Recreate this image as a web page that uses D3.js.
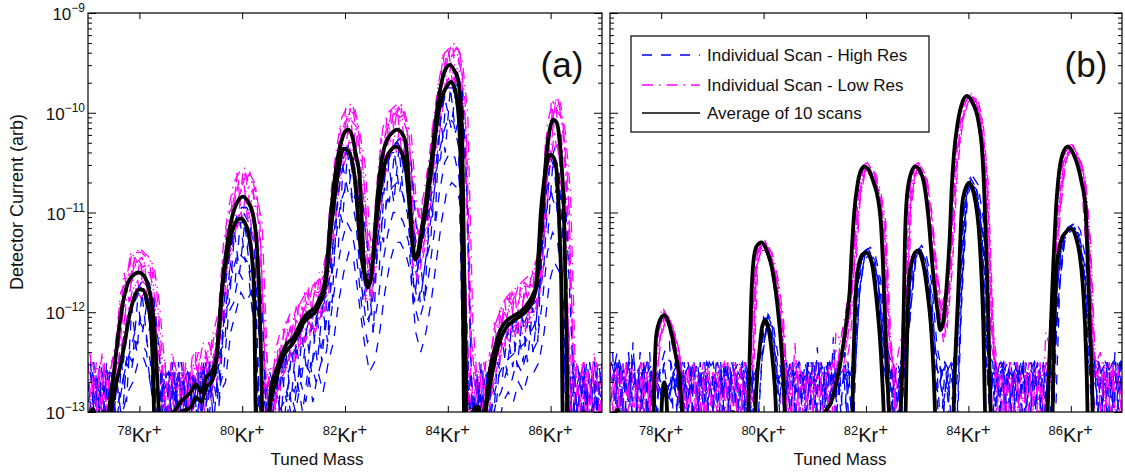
<!DOCTYPE html>
<html>
<head>
<meta charset="utf-8">
<title>Kr isotope mass scans</title>
<script src="https://cdn.jsdelivr.net/npm/d3@7"></script>
<style>
  body { margin: 0; background: #fff; }
  text { font-family: "Liberation Sans", Arial, sans-serif; fill: #111; }
</style>
</head>
<body>
<svg id="chart" width="1125" height="472"></svg>
<script>
// isotope positions on the tuned mass axis
const isotopeMasses = [78, 80, 82, 84, 86];
const isotopeLabels = ["78", "80", "82", "84", "86"];
const decadeExponents = [-9, -10, -11, -12, -13];
const panelNames = ["(a)", "(b)"];
const legendLabels = ["Individual Scan - High Res", "Individual Scan - Low Res", "Average of 10 scans"];

// individual scans: one value every 0.1 amu, each scan starts a bit later
const scanStep = 0.1;
const scanStarts = [77.0, 77.0125, 77.025, 77.0375, 77.05, 77.0625, 77.075, 77.0875];

// all values below are log10 of the detector current

// ---- panel (a) low res scans
const scanAL1 = [-12.6,-13.2,-12.7,-12.9,-12.5,-12.4,-11.9,-11.8,-11.4,-11.5,
  -11.45,-11.6,-11.6,-12.2,-12.6,-13.2,-12.6,-12.9,-12.5,-13.1,
  -12.6,-12.4,-12.8,-12.3,-12.5,-12.0,-11.6,-11.0,-10.9,-10.65,
  -10.7,-10.6,-10.9,-11.2,-12.7,-13.1,-12.5,-12.4,-12.1,-12.2,
  -11.95,-12.1,-11.8,-11.95,-11.7,-11.8,-11.5,-11.05,-10.5,-10.3,
  -10.0,-10.1,-10.15,-10.8,-11.3,-11.6,-10.7,-10.45,-10.1,-10.1,
  -9.95,-10.1,-10.25,-11.2,-11.2,-11.05,-10.5,-10.3,-9.75,-9.55,
  -9.35,-9.45,-9.45,-10.4,-12.6,-13.2,-12.8,-13.2,-12.4,-12.3,
  -11.95,-12.05,-11.8,-11.95,-11.75,-11.85,-11.6,-11.65,-11.1,-10.45,
  -9.9,-10.0,-10.1,-11.2,-12.5,-13.2,-12.5,-12.9,-12.4,-13.1,-12.7];
const scanAL2 = [-13.1,-12.5,-12.9,-12.6,-12.8,-12.5,-12.1,-11.65,-11.6,-11.45,
  -11.55,-11.5,-11.75,-12.0,-12.9,-12.7,-13.2,-12.6,-12.8,-12.7,
  -12.9,-12.5,-12.6,-12.55,-12.2,-12.3,-11.8,-11.2,-10.95,-10.8,
  -10.6,-10.8,-10.75,-11.4,-12.4,-12.8,-12.9,-12.3,-12.3,-12.1,
  -12.2,-11.95,-12.0,-11.75,-11.9,-11.65,-11.6,-10.9,-10.6,-10.2,
  -10.1,-10.0,-10.3,-10.6,-11.5,-11.4,-10.9,-10.3,-10.2,-9.95,
  -10.05,-10.0,-10.4,-11.0,-11.35,-10.9,-10.7,-10.15,-9.9,-9.45,
  -9.45,-9.35,-9.6,-10.2,-12.3,-12.9,-13.2,-12.6,-12.6,-12.1,
  -12.1,-11.85,-11.95,-11.75,-11.9,-11.7,-11.75,-11.5,-11.3,-10.3,
  -10.0,-9.9,-10.3,-11.0,-12.9,-12.6,-13.1,-12.5,-12.8,-12.6,-13.2];
const scanAL3 = [-12.8,-12.9,-12.4,-13.2,-12.7,-12.8,-12.3,-12.0,-11.75,-11.7,
  -11.7,-11.75,-11.9,-12.4,-13.2,-12.8,-12.7,-13.2,-12.6,-12.8,
  -12.7,-12.9,-12.5,-12.8,-12.6,-12.5,-11.9,-11.5,-11.1,-11.0,
  -10.95,-10.95,-11.1,-11.6,-13.2,-12.9,-12.8,-12.6,-12.5,-12.4,
  -12.35,-12.3,-12.1,-12.15,-12.0,-12.0,-11.85,-11.3,-10.8,-10.5,
  -10.3,-10.3,-10.5,-11.0,-11.8,-11.75,-11.1,-10.6,-10.4,-10.3,
  -10.25,-10.3,-10.55,-11.4,-11.55,-11.3,-10.9,-10.5,-10.05,-9.7,
  -9.6,-9.6,-9.75,-11.1,-13.2,-12.7,-13.2,-12.9,-12.8,-12.5,
  -12.3,-12.2,-12.15,-12.1,-12.1,-12.0,-12.0,-11.85,-11.5,-10.6,
  -10.2,-10.2,-10.5,-11.7,-13.2,-12.8,-12.7,-13.2,-12.6,-12.9,-12.8];
const scanAL4 = [-12.5,-12.8,-13.0,-12.6,-13.2,-12.55,-11.95,-11.9,-11.5,-11.35,
  -11.4,-11.45,-11.55,-11.9,-12.5,-12.9,-12.5,-12.8,-13.2,-12.6,
  -12.5,-12.7,-12.4,-12.6,-12.35,-12.1,-11.4,-11.1,-10.7,-10.75,
  -10.6,-10.65,-10.85,-11.1,-12.5,-12.6,-13.2,-12.4,-12.2,-12.25,
  -12.0,-12.0,-11.85,-11.8,-11.8,-11.75,-11.45,-10.8,-10.45,-10.1,
  -10.05,-9.95,-10.2,-10.5,-11.25,-11.45,-10.6,-10.2,-10.05,-10.0,
  -9.9,-10.1,-10.2,-10.9,-11.1,-10.95,-10.55,-10.0,-9.7,-9.4,
  -9.4,-9.35,-9.5,-10.0,-12.1,-12.8,-12.6,-13.2,-12.5,-12.2,
  -12.0,-12.0,-11.85,-11.8,-11.7,-11.75,-11.65,-11.5,-11.0,-10.2,
  -9.95,-9.9,-10.2,-10.8,-12.7,-12.9,-12.6,-12.8,-13.2,-12.5,-12.9];
const scanAL5 = [-12.5,-13.3,-12.6,-13.3,-12.7,-12.4,-12.3,-11.6,-11.9,-11.45,
  -11.8,-11.5,-12.1,-12.0,-13.3,-12.5,-13.3,-12.6,-13.3,-12.5,
  -13.3,-12.4,-13.0,-12.4,-12.9,-12.2,-11.9,-11.1,-11.3,-10.6,
  -11.1,-10.65,-11.3,-11.2,-13.3,-12.6,-13.3,-12.3,-12.6,-12.05,
  -12.5,-11.9,-12.3,-11.75,-12.2,-11.6,-12.0,-10.95,-10.9,-10.15,
  -10.45,-9.95,-10.6,-10.6,-11.9,-11.35,-11.3,-10.25,-10.5,-9.95,
  -10.4,-9.95,-10.7,-11.0,-11.7,-10.9,-11.1,-10.15,-10.2,-9.4,
  -9.75,-9.35,-9.9,-10.5,-13.3,-12.6,-13.3,-12.5,-12.9,-12.1,
  -12.45,-11.85,-12.3,-11.8,-12.25,-11.7,-12.1,-11.5,-11.7,-10.25,
  -10.4,-9.85,-10.7,-11.2,-13.3,-12.5,-13.3,-12.6,-13.3,-12.5,-13.3];
const scanAL6 = [-13.3,-12.6,-13.3,-12.5,-13.3,-12.9,-11.9,-12.1,-11.45,-11.85,
  -11.45,-11.9,-11.55,-12.5,-12.6,-13.3,-12.5,-13.3,-12.7,-13.3,
  -12.5,-13.3,-12.5,-12.9,-12.3,-12.7,-11.5,-11.6,-10.8,-11.15,
  -10.6,-11.1,-10.75,-11.8,-12.6,-13.3,-12.5,-12.8,-12.15,-12.5,
  -12.0,-12.4,-11.8,-12.25,-11.7,-12.1,-11.5,-11.45,-10.45,-10.65,
  -9.95,-10.45,-10.15,-11.15,-11.4,-11.9,-10.8,-10.75,-10.05,-10.4,
  -9.95,-10.45,-10.2,-11.55,-11.15,-11.4,-10.55,-10.65,-9.7,-9.9,
  -9.35,-9.8,-9.45,-11.3,-12.6,-13.3,-12.5,-13.3,-12.4,-12.6,
  -11.95,-12.35,-11.8,-12.25,-11.75,-12.2,-11.65,-12.0,-11.2,-10.8,
  -9.9,-10.35,-10.2,-11.9,-12.6,-13.3,-12.5,-13.3,-12.6,-13.3,-12.7];
const scanAL7 = [-12.7,-13.3,-12.9,-12.6,-13.3,-12.7,-12.5,-12.0,-11.95,-11.75,
  -11.85,-11.8,-12.05,-12.6,-13.3,-12.8,-12.6,-13.3,-12.6,-13.3,
  -12.7,-12.6,-13.3,-12.6,-12.8,-12.4,-12.0,-11.45,-11.3,-11.05,
  -11.05,-11.0,-11.25,-11.9,-13.3,-12.7,-12.9,-12.7,-12.6,-12.45,
  -12.5,-12.3,-12.3,-12.15,-12.2,-12.0,-11.95,-11.45,-10.95,-10.6,
  -10.45,-10.4,-10.65,-11.15,-11.9,-11.85,-11.25,-10.7,-10.55,-10.35,
  -10.4,-10.35,-10.7,-11.5,-11.7,-11.35,-11.05,-10.55,-10.2,-9.75,
  -9.75,-9.65,-9.9,-11.3,-13.3,-12.8,-12.6,-13.3,-12.9,-12.6,
  -12.45,-12.25,-12.3,-12.15,-12.25,-12.1,-12.1,-11.95,-11.7,-10.7,
  -10.35,-10.3,-10.7,-11.9,-13.3,-12.7,-13.3,-12.6,-12.9,-13.3,-12.6];
const scanAL8 = [-12.4,-12.9,-12.5,-13.3,-12.6,-12.3,-11.8,-11.7,-11.4,-11.4,
  -11.4,-11.45,-11.5,-11.8,-12.4,-13.3,-12.4,-12.7,-12.5,-12.9,
  -12.4,-12.6,-12.3,-12.5,-12.2,-12.0,-11.3,-10.95,-10.7,-10.6,
  -10.55,-10.6,-10.7,-11.0,-12.4,-13.3,-12.4,-12.2,-12.15,-12.0,
  -12.0,-11.9,-11.8,-11.75,-11.7,-11.65,-11.4,-10.75,-10.35,-10.05,
  -9.95,-9.9,-10.1,-10.45,-11.2,-11.3,-10.6,-10.15,-10.0,-9.95,
  -9.9,-9.95,-10.15,-10.8,-11.05,-10.8,-10.45,-10.0,-9.65,-9.4,
  -9.35,-9.3,-9.4,-9.9,-12.2,-12.6,-13.3,-12.5,-12.4,-12.1,
  -11.95,-11.85,-11.8,-11.75,-11.7,-11.65,-11.6,-11.45,-10.95,-10.1,
  -9.9,-9.85,-10.1,-10.7,-12.4,-12.8,-12.5,-13.3,-12.5,-12.8,-12.4];

// ---- panel (a) high res scans
const scanAH1 = [-12.7,-13.2,-12.6,-12.9,-13.2,-12.8,-12.6,-12.3,-12.0,-11.9,
  -11.8,-11.85,-12.1,-13.0,-13.2,-12.7,-12.9,-12.6,-13.2,-12.8,
  -12.6,-12.9,-12.7,-12.5,-12.8,-12.6,-11.9,-11.5,-11.3,-11.1,
  -11.1,-11.2,-11.5,-12.8,-13.2,-12.9,-12.7,-12.8,-12.5,-12.6,
  -12.4,-12.3,-12.3,-12.1,-12.2,-12.0,-11.9,-11.4,-10.95,-10.6,
  -10.4,-10.45,-10.8,-11.4,-11.8,-11.7,-11.2,-10.8,-10.55,-10.4,
  -10.4,-10.45,-10.7,-11.3,-11.6,-11.3,-11.0,-10.6,-10.1,-9.9,
  -9.75,-9.75,-10.0,-12.4,-13.2,-12.9,-13.2,-12.7,-12.8,-12.5,
  -12.3,-12.3,-12.15,-12.2,-12.05,-12.1,-11.95,-11.9,-11.2,-10.65,
  -10.45,-10.6,-11.2,-13.2,-12.6,-12.9,-13.2,-12.5,-12.8,-12.6,-13.2];
const scanAH2 = [-12.9,-12.5,-13.2,-12.6,-12.8,-13.2,-12.9,-12.6,-12.4,-12.2,
  -12.1,-12.2,-12.5,-13.2,-12.8,-12.6,-13.2,-12.7,-12.5,-12.9,
  -13.2,-12.6,-12.8,-12.9,-12.6,-12.9,-12.3,-11.8,-11.6,-11.4,
  -11.45,-11.5,-11.9,-13.2,-12.7,-12.8,-13.2,-13.0,-12.9,-12.7,
  -12.8,-12.6,-12.5,-12.6,-12.4,-12.4,-12.2,-11.8,-11.3,-10.9,
  -10.75,-10.8,-11.1,-11.7,-12.1,-12.0,-11.5,-11.1,-10.9,-10.75,
  -10.7,-10.8,-11.0,-11.6,-11.9,-11.7,-11.3,-10.9,-10.45,-10.2,
  -10.05,-10.1,-10.35,-13.2,-12.8,-13.2,-12.7,-13.2,-13.0,-12.8,
  -12.6,-12.5,-12.45,-12.4,-12.35,-12.3,-12.2,-12.1,-11.6,-11.0,
  -10.8,-10.9,-11.5,-13.2,-12.9,-12.5,-12.8,-13.2,-12.6,-12.9,-12.7];
const scanAH3 = [-13.0,-12.7,-12.8,-13.2,-12.6,-12.7,-12.4,-12.2,-11.95,-11.8,
  -11.75,-11.8,-11.95,-12.5,-12.9,-13.2,-12.6,-13.2,-12.8,-12.6,
  -12.8,-12.6,-13.0,-12.6,-12.7,-12.5,-11.8,-11.45,-11.15,-11.0,
  -11.0,-11.1,-11.3,-12.2,-13.2,-12.8,-12.9,-12.6,-12.6,-12.4,
  -12.5,-12.2,-12.25,-12.0,-12.1,-11.9,-11.85,-11.25,-10.8,-10.5,
  -10.35,-10.4,-10.65,-11.2,-11.6,-11.55,-11.1,-10.7,-10.45,-10.35,
  -10.3,-10.4,-10.55,-11.1,-11.45,-11.2,-10.85,-10.5,-10.0,-9.8,
  -9.7,-9.65,-9.85,-11.4,-12.9,-13.2,-12.8,-13.2,-12.6,-12.4,
  -12.25,-12.2,-12.1,-12.1,-12.0,-12.0,-11.9,-11.8,-11.0,-10.55,
  -10.4,-10.5,-10.9,-12.2,-13.2,-12.7,-12.6,-13.2,-12.9,-12.5,-12.8];
const scanAH4 = [-12.6,-12.9,-12.5,-12.8,-12.7,-13.0,-12.8,-12.5,-12.6,-12.3,
  -12.3,-12.4,-12.8,-13.2,-12.6,-12.8,-12.5,-12.9,-12.7,-12.6,
  -12.9,-12.7,-12.6,-12.8,-12.5,-12.8,-12.6,-12.0,-11.9,-11.6,
  -11.7,-11.7,-12.2,-13.2,-12.9,-12.6,-12.8,-12.9,-13.2,-12.8,
  -13.0,-12.7,-12.9,-12.5,-12.7,-12.5,-12.4,-12.0,-11.6,-11.3,
  -11.1,-11.2,-11.5,-12.0,-12.3,-12.2,-11.9,-11.5,-11.2,-11.0,
  -11.0,-11.1,-11.3,-11.9,-12.1,-11.9,-11.6,-11.2,-10.8,-10.5,
  -10.4,-10.45,-10.7,-12.9,-13.2,-12.7,-12.9,-12.6,-13.2,-12.9,
  -12.8,-12.6,-12.7,-12.5,-12.6,-12.4,-12.4,-12.3,-11.9,-11.4,
  -11.2,-11.3,-11.8,-13.2,-12.6,-12.8,-12.5,-12.9,-12.7,-13.2,-12.6];
const scanAH5 = [-12.5,-13.3,-12.7,-13.3,-12.6,-13.3,-12.5,-12.9,-11.95,-12.4,
  -11.8,-12.3,-12.0,-13.3,-12.6,-13.3,-12.5,-13.3,-12.6,-13.3,
  -12.6,-13.3,-12.5,-13.1,-12.5,-12.9,-12.0,-11.9,-11.2,-11.6,
  -11.1,-11.6,-11.5,-13.3,-12.6,-13.3,-12.6,-13.1,-12.4,-12.9,
  -12.3,-12.7,-12.2,-12.6,-12.0,-12.5,-11.85,-11.9,-10.9,-11.1,
  -10.4,-10.9,-10.75,-11.9,-11.6,-12.2,-11.1,-11.3,-10.5,-10.9,
  -10.35,-10.9,-10.65,-11.9,-11.4,-11.9,-10.9,-11.1,-10.05,-10.4,
  -9.75,-10.2,-9.95,-13.3,-12.6,-13.3,-12.5,-13.3,-12.7,-12.9,
  -12.25,-12.6,-12.1,-12.55,-12.05,-12.5,-11.95,-12.3,-11.1,-11.2,
  -10.45,-11.0,-11.1,-13.3,-12.5,-13.3,-12.6,-13.3,-12.5,-13.3,-12.6];
const scanAH6 = [-13.3,-12.6,-13.3,-12.5,-13.3,-12.7,-13.1,-12.4,-12.5,-11.9,
  -12.2,-11.85,-12.5,-13.3,-12.7,-12.6,-13.3,-12.5,-13.3,-12.6,
  -13.3,-12.6,-13.2,-12.5,-13.0,-12.4,-12.3,-11.5,-11.7,-11.1,
  -11.5,-11.15,-11.9,-13.3,-13.3,-12.7,-13.3,-12.6,-12.9,-12.4,
  -12.8,-12.25,-12.6,-12.1,-12.5,-11.95,-12.3,-11.35,-11.4,-10.55,
  -10.8,-10.45,-11.2,-11.35,-12.1,-11.65,-11.6,-10.75,-10.9,-10.4,
  -10.8,-10.45,-11.0,-11.3,-11.9,-11.5,-11.3,-10.6,-10.45,-9.9,
  -10.15,-9.75,-10.35,-12.5,-13.3,-12.6,-13.3,-12.6,-13.3,-12.5,
  -12.65,-12.2,-12.55,-12.15,-12.5,-12.05,-12.4,-11.85,-11.6,-10.7,
  -10.9,-10.6,-11.5,-13.3,-13.3,-12.6,-13.3,-12.5,-13.3,-12.6,-13.3];
const scanAH7 = [-12.8,-13.3,-12.6,-13.3,-12.9,-13.3,-13.0,-12.8,-12.7,-12.5,
  -12.45,-12.6,-12.9,-13.3,-12.9,-13.3,-12.6,-13.3,-12.9,-12.7,
  -13.3,-12.8,-13.3,-12.7,-13.3,-12.8,-12.7,-12.2,-12.0,-11.8,
  -11.9,-11.8,-12.4,-13.3,-12.9,-13.3,-13.0,-13.3,-12.8,-13.1,
  -12.7,-13.0,-12.6,-12.9,-12.6,-12.8,-12.5,-12.3,-11.9,-11.6,
  -11.4,-11.5,-11.9,-12.3,-12.6,-12.5,-12.2,-11.8,-11.5,-11.3,
  -11.3,-11.4,-11.6,-12.2,-12.4,-12.2,-11.9,-11.5,-11.1,-10.8,
  -10.7,-10.75,-11.0,-13.3,-12.9,-13.3,-12.8,-13.3,-12.9,-13.2,
  -12.9,-12.8,-12.9,-12.7,-12.8,-12.6,-12.6,-12.5,-12.2,-11.7,
  -11.5,-11.6,-12.1,-13.3,-12.8,-13.3,-12.7,-13.3,-12.8,-13.3,-12.9];
const scanAH8 = [-12.6,-12.9,-13.3,-12.6,-12.8,-12.6,-12.5,-12.1,-11.85,-11.75,
  -11.65,-11.7,-11.9,-12.4,-13.3,-12.6,-12.9,-12.6,-12.8,-13.3,
  -12.7,-12.6,-12.8,-12.5,-12.6,-12.4,-11.65,-11.35,-11.05,-10.95,
  -10.95,-11.05,-11.25,-12.0,-13.3,-12.7,-12.7,-12.5,-12.4,-12.3,
  -12.25,-12.15,-12.05,-12.0,-11.95,-11.85,-11.7,-11.2,-10.75,-10.45,
  -10.3,-10.35,-10.6,-11.15,-11.55,-11.5,-11.0,-10.6,-10.4,-10.3,
  -10.25,-10.35,-10.5,-11.15,-11.35,-11.1,-10.8,-10.45,-9.95,-9.75,
  -9.65,-9.6,-9.8,-11.0,-13.3,-12.7,-13.3,-12.6,-12.6,-12.35,
  -12.2,-12.1,-12.05,-12.0,-11.95,-11.95,-11.85,-11.7,-10.95,-10.5,
  -10.35,-10.45,-10.85,-12.0,-13.3,-12.6,-12.8,-13.3,-12.6,-12.9,-12.7];

// ---- panel (b) low res scans
const scanBL1 = [-12.7,-13.2,-12.6,-12.9,-12.5,-13.2,-12.7,-12.8,-12.6,-12.2,
  -12.0,-12.05,-12.2,-12.4,-12.8,-12.7,-13.2,-12.6,-12.9,-12.7,
  -12.6,-13.2,-12.7,-12.8,-12.5,-12.9,-12.7,-13.2,-11.5,-11.3,
  -11.3,-11.45,-11.65,-12.05,-12.7,-12.8,-13.2,-12.6,-12.9,-12.7,
  -12.8,-12.6,-12.9,-12.7,-12.6,-12.4,-12.1,-11.5,-10.85,-10.55,
  -10.52,-10.6,-10.78,-11.05,-12.2,-12.8,-12.7,-12.5,-10.85,-10.55,
  -10.52,-10.62,-10.95,-11.5,-11.95,-12.1,-11.5,-10.5,-10.08,-9.88,
  -9.82,-9.86,-10.08,-10.65,-12.0,-12.8,-12.6,-13.2,-12.7,-12.5,
  -12.9,-12.6,-12.8,-12.7,-13.2,-12.6,-12.1,-11.0,-10.52,-10.35,
  -10.33,-10.45,-10.62,-11.25,-12.5,-12.6,-12.9,-12.5,-12.8,-12.6,-13.0];
const scanBL2 = [-12.9,-12.5,-12.8,-12.6,-13.2,-12.7,-12.5,-12.9,-12.7,-12.3,
  -12.05,-12.1,-12.25,-12.5,-12.9,-12.6,-12.8,-12.6,-13.2,-12.7,
  -12.8,-12.6,-12.9,-12.6,-13.2,-12.7,-12.6,-12.8,-11.55,-11.35,
  -11.35,-11.4,-11.75,-12.1,-12.85,-12.6,-12.7,-12.9,-12.6,-12.8,
  -12.6,-12.9,-12.7,-12.5,-12.7,-12.2,-12.2,-11.6,-10.9,-10.6,
  -10.56,-10.63,-10.82,-11.15,-12.35,-12.6,-12.9,-12.6,-10.95,-10.6,
  -10.56,-10.66,-11.05,-11.6,-12.0,-12.2,-11.6,-10.6,-10.12,-9.92,
  -9.85,-9.9,-10.12,-10.75,-12.2,-12.6,-12.9,-12.6,-13.2,-12.7,
  -12.6,-12.8,-12.5,-12.9,-12.6,-12.8,-12.3,-11.1,-10.57,-10.38,
  -10.37,-10.48,-10.68,-11.35,-12.65,-12.5,-12.8,-13.2,-12.6,-12.7,-12.5];
const scanBL3 = [-12.6,-12.8,-13.2,-12.7,-12.6,-12.9,-12.6,-12.7,-13.0,-12.25,
  -12.1,-12.08,-12.22,-12.45,-13.0,-12.6,-12.7,-12.9,-12.6,-12.8,
  -13.2,-12.7,-12.6,-12.9,-12.7,-12.6,-12.9,-12.7,-11.45,-11.32,
  -11.32,-11.48,-11.7,-12.1,-12.75,-13.2,-12.8,-12.7,-12.8,-12.6,
  -12.9,-12.7,-12.6,-12.8,-12.5,-12.5,-12.0,-11.55,-10.88,-10.57,
  -10.54,-10.62,-10.8,-11.1,-12.25,-12.9,-12.6,-12.3,-10.9,-10.57,
  -10.54,-10.64,-11.0,-11.55,-11.9,-12.0,-11.45,-10.55,-10.1,-9.9,
  -9.84,-9.88,-10.1,-10.7,-12.1,-12.9,-12.7,-12.8,-12.6,-12.9,
  -12.7,-12.6,-13.2,-12.6,-12.7,-12.5,-12.2,-11.05,-10.55,-10.37,
  -10.36,-10.47,-10.64,-11.3,-12.55,-12.4,-12.7,-12.6,-13.2,-12.5,-12.8];
const scanBL4 = [-13.2,-12.6,-12.7,-12.5,-12.8,-12.6,-13.2,-12.6,-12.8,-12.3,
  -12.06,-12.1,-12.25,-12.5,-12.9,-13.2,-12.6,-12.8,-12.7,-12.6,
  -12.7,-12.8,-12.5,-12.7,-12.8,-12.6,-12.7,-12.9,-11.5,-11.32,
  -11.33,-11.44,-11.68,-12.06,-12.9,-12.7,-12.6,-12.8,-12.7,-12.9,
  -12.7,-12.8,-12.5,-12.7,-12.4,-12.6,-12.3,-11.65,-10.87,-10.58,
  -10.55,-10.61,-10.79,-11.1,-12.3,-12.7,-12.8,-12.4,-10.92,-10.58,
  -10.55,-10.64,-11.0,-11.58,-12.05,-12.15,-11.55,-10.55,-10.1,-9.9,
  -9.84,-9.87,-10.1,-10.72,-12.15,-12.7,-12.8,-13.2,-12.6,-12.8,
  -12.8,-12.5,-12.7,-12.6,-12.9,-12.7,-12.25,-11.05,-10.55,-10.37,
  -10.36,-10.47,-10.65,-11.3,-12.6,-12.7,-12.5,-12.9,-12.6,-12.8,-12.6];
const scanBL5 = [-12.5,-13.3,-12.6,-13.3,-12.7,-13.3,-12.5,-13.3,-12.8,-12.3,
  -12.1,-12.0,-12.3,-12.5,-13.3,-12.6,-13.3,-12.7,-13.3,-12.5,
  -13.3,-12.6,-13.3,-12.5,-13.3,-12.7,-13.3,-12.6,-11.55,-11.3,
  -11.35,-11.4,-11.75,-12.0,-13.3,-12.6,-13.3,-12.5,-13.3,-12.7,
  -13.3,-12.5,-13.3,-12.6,-12.4,-12.3,-12.0,-11.7,-10.8,-10.6,
  -10.53,-10.65,-10.75,-11.2,-12.1,-13.3,-12.5,-12.2,-10.95,-10.55,
  -10.57,-10.6,-11.05,-11.5,-12.1,-11.9,-11.65,-10.45,-10.15,-9.87,
  -9.86,-9.85,-10.15,-10.6,-12.3,-13.3,-12.6,-13.3,-12.5,-13.3,
  -12.7,-13.3,-12.6,-13.3,-12.5,-13.3,-12.0,-11.1,-10.5,-10.39,
  -10.34,-10.5,-10.6,-11.4,-12.4,-13.3,-12.6,-13.3,-12.5,-13.3,-12.6];
const scanBL6 = [-13.3,-12.6,-13.3,-12.5,-13.3,-12.7,-13.3,-12.6,-13.3,-12.2,
  -12.05,-12.1,-12.2,-12.4,-12.7,-13.3,-12.5,-13.3,-12.6,-13.3,
  -12.6,-13.3,-12.7,-13.3,-12.5,-13.3,-12.6,-13.3,-11.45,-11.36,
  -11.3,-11.5,-11.65,-12.15,-12.6,-13.3,-12.3,-13.3,-12.6,-13.3,
  -12.5,-13.3,-12.6,-13.3,-12.2,-12.3,-12.25,-11.5,-10.9,-10.56,
  -10.57,-10.6,-10.85,-11.0,-12.4,-12.6,-13.3,-12.4,-10.85,-10.6,
  -10.53,-10.68,-10.95,-11.6,-11.85,-12.3,-11.4,-10.65,-10.05,-9.93,
  -9.83,-9.9,-10.05,-10.8,-11.9,-12.6,-13.3,-12.5,-13.3,-12.6,
  -13.3,-12.5,-13.3,-12.6,-13.3,-12.2,-12.4,-11.0,-10.6,-10.35,
  -10.38,-10.44,-10.7,-11.2,-12.7,-12.5,-13.3,-12.6,-13.3,-12.5,-13.3];
const scanBL7 = [-12.7,-12.5,-13.3,-12.8,-12.6,-13.3,-12.7,-12.5,-13.3,-12.15,
  -11.95,-12.05,-12.15,-12.4,-12.8,-12.5,-13.3,-12.8,-12.5,-13.3,
  -12.7,-12.5,-13.3,-12.7,-12.6,-13.3,-12.5,-12.7,-11.6,-11.28,
  -11.28,-11.42,-11.6,-12.0,-12.6,-12.5,-13.3,-12.6,-12.7,-13.3,
  -12.6,-12.7,-13.3,-12.5,-12.6,-12.2,-12.1,-11.55,-10.82,-10.53,
  -10.5,-10.58,-10.76,-11.05,-12.15,-12.5,-13.3,-12.3,-10.88,-10.53,
  -10.5,-10.6,-10.92,-11.45,-11.9,-12.0,-11.5,-10.5,-10.06,-9.86,
  -9.8,-9.84,-10.05,-10.62,-12.05,-12.5,-13.3,-12.7,-12.5,-13.3,
  -12.6,-12.7,-13.3,-12.5,-12.8,-13.3,-12.15,-10.98,-10.5,-10.33,
  -10.32,-10.43,-10.6,-11.2,-12.45,-12.5,-13.3,-12.6,-12.5,-13.3,-12.7];
const scanBL8 = [-12.9,-13.3,-12.5,-12.7,-13.3,-12.6,-12.5,-13.3,-12.6,-12.35,
  -12.12,-12.15,-12.3,-12.55,-13.3,-12.7,-12.5,-13.3,-12.7,-12.6,
  -13.3,-12.6,-12.5,-13.3,-12.7,-12.5,-13.3,-12.6,-11.6,-11.38,
  -11.38,-11.5,-11.8,-12.2,-13.3,-12.6,-12.5,-13.3,-12.8,-12.5,
  -13.3,-12.6,-12.7,-13.3,-12.5,-12.6,-12.3,-11.7,-10.92,-10.62,
  -10.6,-10.66,-10.85,-11.2,-12.4,-12.6,-13.3,-12.5,-10.98,-10.62,
  -10.6,-10.7,-11.1,-11.65,-12.1,-12.25,-11.65,-10.65,-10.15,-9.95,
  -9.88,-9.92,-10.15,-10.8,-12.3,-12.6,-12.5,-13.3,-12.7,-12.5,
  -13.3,-12.6,-12.8,-13.3,-12.6,-12.5,-12.35,-11.15,-10.6,-10.4,
  -10.4,-10.5,-10.7,-11.4,-12.7,-12.6,-12.5,-13.3,-12.6,-12.7,-13.3];

// ---- panel (b) high res scans
const scanBH1 = [-12.6,-12.9,-12.5,-13.2,-12.7,-12.6,-12.9,-12.7,-12.8,-12.6,
  -12.85,-12.8,-12.9,-12.6,-13.2,-12.7,-12.6,-12.8,-12.6,-12.9,
  -12.7,-12.5,-12.8,-12.6,-12.9,-12.6,-12.7,-13.2,-12.9,-12.4,
  -12.05,-12.15,-12.55,-12.9,-12.6,-12.8,-12.7,-12.5,-12.8,-12.6,
  -12.9,-12.6,-12.5,-12.7,-12.6,-12.8,-12.6,-12.9,-11.75,-11.42,
  -11.38,-11.48,-11.72,-12.45,-12.7,-12.6,-12.9,-12.6,-11.95,-11.45,
  -11.36,-11.48,-11.78,-12.45,-12.8,-12.6,-12.7,-12.9,-11.78,-10.82,
  -10.68,-10.78,-11.12,-12.35,-12.7,-12.6,-12.8,-12.6,-12.9,-12.5,
  -12.7,-12.6,-12.8,-12.5,-12.6,-12.9,-12.7,-11.75,-11.28,-11.18,
  -11.14,-11.23,-11.52,-12.35,-12.7,-12.6,-12.5,-12.8,-12.6,-12.5,-12.7];
const scanBH2 = [-12.9,-12.5,-12.7,-12.6,-12.4,-12.8,-12.6,-13.2,-12.6,-12.7,
  -12.8,-12.9,-12.6,-12.8,-12.5,-12.9,-12.7,-12.5,-13.2,-12.6,
  -12.5,-12.8,-12.6,-12.9,-12.6,-12.5,-12.8,-12.6,-12.7,-12.5,
  -12.1,-12.2,-12.6,-12.7,-12.9,-12.5,-12.7,-12.9,-12.5,-12.8,
  -12.6,-12.7,-12.9,-12.5,-12.8,-12.5,-12.7,-12.6,-11.8,-11.46,
  -11.4,-11.5,-11.78,-12.5,-12.6,-12.8,-12.5,-12.7,-12.0,-11.48,
  -11.38,-11.52,-11.82,-12.5,-12.6,-12.9,-12.6,-12.5,-11.8,-10.86,
  -10.7,-10.8,-11.18,-12.45,-12.6,-12.8,-12.5,-12.9,-12.6,-12.7,
  -12.5,-12.8,-12.6,-12.7,-12.9,-12.6,-12.5,-11.8,-11.3,-11.2,
  -11.16,-11.26,-11.56,-12.45,-12.6,-12.8,-12.7,-12.5,-12.9,-12.7,-12.5];
const scanBH3 = [-12.5,-12.7,-12.9,-12.5,-12.8,-12.6,-12.5,-12.8,-12.7,-13.0,
  -12.82,-12.88,-12.7,-12.9,-12.6,-12.5,-12.8,-12.9,-12.6,-12.7,
  -12.9,-12.6,-12.7,-12.5,-12.8,-12.9,-12.6,-12.5,-12.95,-12.45,
  -12.08,-12.18,-12.6,-12.8,-12.5,-12.7,-12.6,-12.9,-12.7,-12.5,
  -12.7,-12.5,-12.8,-12.6,-12.9,-12.6,-12.5,-12.8,-11.78,-11.44,
  -11.39,-11.5,-11.74,-12.4,-12.8,-12.5,-12.7,-12.6,-11.9,-11.46,
  -11.37,-11.5,-11.8,-12.55,-12.5,-12.7,-12.8,-12.6,-11.85,-10.84,
  -10.69,-10.79,-11.15,-12.4,-12.9,-12.5,-12.6,-12.7,-12.5,-12.9,
  -12.6,-12.7,-12.5,-12.9,-12.7,-12.5,-12.8,-11.82,-11.29,-11.19,
  -11.15,-11.24,-11.54,-12.4,-12.5,-12.7,-12.9,-12.6,-12.5,-12.8,-12.6];
const scanBH4 = [-12.7,-12.4,-12.6,-12.8,-12.5,-12.9,-12.7,-12.6,-12.5,-12.8,
  -12.7,-12.75,-12.6,-12.5,-12.7,-12.8,-12.5,-12.7,-12.8,-12.5,
  -12.6,-12.9,-12.5,-12.7,-12.6,-12.8,-12.5,-12.7,-12.6,-12.35,
  -12.0,-12.1,-12.5,-12.6,-12.7,-12.6,-12.8,-12.6,-12.6,-12.9,
  -12.5,-12.8,-12.6,-12.8,-12.5,-12.7,-12.6,-12.5,-11.7,-11.4,
  -11.36,-11.45,-11.7,-12.35,-12.6,-12.7,-12.6,-12.5,-11.9,-11.42,
  -11.35,-11.46,-11.75,-12.4,-12.7,-12.5,-12.6,-12.8,-11.72,-10.8,
  -10.65,-10.74,-11.08,-12.3,-12.6,-12.7,-12.5,-12.6,-12.8,-12.6,
  -12.8,-12.5,-12.6,-12.7,-12.5,-12.7,-12.6,-11.7,-11.25,-11.15,
  -11.12,-11.2,-11.48,-12.3,-12.6,-12.5,-12.7,-12.8,-12.5,-12.6,-12.8];
const scanBH5 = [-12.4,-13.3,-12.5,-13.3,-12.3,-13.3,-12.5,-13.3,-12.7,-13.3,
  -12.5,-12.9,-12.6,-13.3,-12.5,-13.3,-12.6,-13.3,-12.5,-13.3,
  -12.6,-13.3,-12.5,-13.3,-12.7,-13.3,-12.5,-13.3,-12.6,-12.4,
  -12.05,-12.2,-12.5,-13.3,-12.5,-13.3,-12.6,-13.3,-12.5,-13.3,
  -12.35,-13.3,-12.5,-13.3,-12.6,-13.3,-12.5,-13.3,-11.75,-11.4,
  -11.36,-11.52,-11.7,-12.6,-12.5,-13.3,-12.6,-13.3,-11.9,-11.5,
  -11.34,-11.55,-11.75,-12.6,-13.3,-12.5,-13.3,-12.6,-11.75,-10.88,
  -10.66,-10.82,-11.1,-12.5,-13.3,-12.5,-13.3,-12.6,-13.3,-12.5,
  -13.3,-12.6,-13.3,-12.5,-13.3,-12.6,-13.3,-11.7,-11.32,-11.17,
  -11.12,-11.28,-11.5,-12.5,-13.3,-12.5,-13.3,-12.6,-13.3,-12.5,-13.3];
const scanBH6 = [-13.3,-12.5,-13.3,-12.4,-13.3,-12.6,-13.3,-12.5,-13.3,-12.6,
  -12.4,-12.3,-13.3,-12.5,-13.3,-12.6,-13.3,-12.5,-13.3,-12.7,
  -13.3,-12.5,-13.3,-12.6,-13.3,-12.5,-13.3,-12.6,-13.3,-12.5,
  -12.15,-12.1,-12.7,-12.6,-13.3,-12.5,-13.3,-12.6,-13.3,-12.5,
  -13.3,-12.6,-13.3,-12.25,-13.3,-12.6,-13.3,-12.5,-11.85,-11.48,
  -11.42,-11.47,-11.8,-12.4,-13.3,-12.6,-13.3,-12.5,-12.05,-11.44,
  -11.4,-11.47,-11.85,-12.4,-12.6,-13.3,-12.5,-13.3,-11.85,-10.83,
  -10.72,-10.77,-11.2,-12.3,-12.6,-13.3,-12.5,-13.3,-12.6,-13.3,
  -12.5,-13.3,-12.6,-13.3,-12.5,-13.3,-12.6,-11.85,-11.27,-11.22,
  -11.18,-11.22,-11.6,-12.3,-12.5,-13.3,-12.6,-13.3,-12.4,-13.3,-12.6];
const scanBH7 = [-12.6,-12.5,-13.3,-12.7,-12.5,-13.3,-12.6,-12.4,-13.3,-12.6,
  -12.7,-12.8,-12.5,-13.3,-12.6,-12.5,-13.3,-12.6,-12.7,-13.3,
  -12.5,-12.6,-13.3,-12.5,-12.7,-13.3,-12.6,-12.5,-13.3,-12.42,
  -12.1,-12.15,-12.55,-13.3,-12.6,-12.5,-13.3,-12.7,-12.5,-13.3,
  -12.6,-12.5,-13.3,-12.6,-12.5,-13.3,-12.6,-12.7,-11.8,-11.43,
  -11.4,-11.48,-11.74,-12.5,-12.6,-13.3,-12.5,-12.6,-11.92,-11.47,
  -11.38,-11.5,-11.8,-12.5,-13.3,-12.6,-12.5,-13.3,-11.8,-10.85,
  -10.7,-10.8,-11.15,-12.4,-12.5,-13.3,-12.6,-12.5,-13.3,-12.6,
  -12.5,-13.3,-12.6,-12.5,-13.3,-12.6,-12.5,-11.78,-11.3,-11.2,
  -11.15,-11.25,-11.55,-12.4,-12.6,-13.3,-12.5,-12.6,-13.3,-12.5,-12.6];
const scanBH8 = [-12.5,-13.3,-12.7,-12.5,-13.3,-12.4,-12.6,-13.3,-12.5,-12.7,
  -12.45,-12.5,-12.8,-12.6,-13.3,-12.5,-12.7,-13.3,-12.5,-12.6,
  -13.3,-12.7,-12.5,-13.3,-12.6,-12.5,-13.3,-12.7,-12.5,-12.38,
  -12.02,-12.12,-12.45,-12.7,-13.3,-12.6,-12.5,-13.3,-12.7,-12.5,
  -13.3,-12.6,-12.5,-13.3,-12.6,-12.4,-13.3,-12.6,-11.72,-11.38,
  -11.35,-11.44,-11.68,-12.3,-12.5,-13.3,-12.6,-12.5,-11.88,-11.4,
  -11.33,-11.45,-11.72,-12.35,-12.6,-12.5,-13.3,-12.6,-11.7,-10.78,
  -10.64,-10.72,-11.05,-12.25,-13.3,-12.6,-12.5,-13.3,-12.6,-12.5,
  -13.3,-12.6,-12.5,-13.3,-12.7,-12.5,-13.3,-11.68,-11.24,-11.14,
  -11.1,-11.18,-11.46,-12.25,-13.3,-12.6,-12.5,-13.3,-12.6,-12.5,-13.3];

// ---- averages of 10 scans: [tuned mass, log10 current]
const avgALow = [[77.0,-13.15],[77.1,-12.97],[77.2,-13.2],[77.3,-13.0],[77.38,-13.05],[77.45,-12.8],[77.5,-12.62],[77.56,-12.35],[77.62,-12.1],[77.7,-11.85],[77.8,-11.68],[77.9,-11.62],[77.98,-11.6],[78.08,-11.63],[78.16,-11.72],[78.22,-11.85],[78.28,-12.1],[78.32,-12.4],[78.36,-12.8],[78.4,-13.2],
  [78.5,-13.3],[78.6,-13.05],[78.7,-12.98],[78.8,-12.9],[78.9,-12.85],[79.0,-12.8],[79.1,-12.72],[79.2,-12.8],[79.3,-12.65],[79.4,-12.6],[79.5,-12.45],[79.56,-12.1],[79.62,-11.7],[79.7,-11.35],[79.8,-11.05],[79.9,-10.9],[80.02,-10.84],[80.12,-10.9],[80.2,-11.0],[80.28,-11.3],[80.33,-11.8],[80.37,-12.5],[80.4,-13.2],
  [80.5,-13.2],[80.56,-12.75],[80.65,-12.6],[80.75,-12.45],[80.85,-12.33],[81.0,-12.25],[81.1,-12.15],[81.2,-12.05],[81.3,-12.0],[81.42,-11.95],[81.52,-11.85],[81.6,-11.72],[81.66,-11.45],[81.72,-11.05],[81.78,-10.75],[81.86,-10.45],[81.95,-10.25],[82.06,-10.17],[82.15,-10.25],[82.22,-10.45],[82.28,-10.62],[82.33,-11.1],[82.37,-11.55],[82.45,-11.75],[82.52,-11.6],[82.58,-11.2],[82.64,-10.8],[82.72,-10.45],[82.82,-10.27],[82.92,-10.2],[83.01,-10.17],[83.1,-10.2],[83.18,-10.3],[83.23,-10.6],[83.27,-10.95],[83.32,-11.35],[83.36,-11.46],[83.42,-11.4],[83.48,-11.2],[83.56,-10.94],[83.63,-10.65],[83.69,-10.44],[83.76,-10.1],[83.85,-9.77],[83.95,-9.57],[84.04,-9.52],[84.12,-9.57],[84.2,-9.67],[84.25,-9.9],[84.28,-10.27],[84.3,-10.9],[84.32,-11.6],[84.35,-12.5],[84.37,-13.2],
  [84.45,-13.05],[84.55,-12.95],[84.62,-13.2],[84.7,-13.0],[84.76,-12.85],[84.82,-12.58],[84.92,-12.35],[85.02,-12.18],[85.12,-12.1],[85.21,-12.06],[85.3,-12.03],[85.4,-12.0],[85.5,-11.95],[85.6,-11.88],[85.68,-11.8],[85.73,-11.73],[85.78,-11.45],[85.83,-11.08],[85.91,-10.47],[85.98,-10.18],[86.05,-10.07],[86.12,-10.1],[86.18,-10.3],[86.22,-10.57],[86.26,-11.0],[86.28,-11.48],[86.31,-12.2],[86.34,-13.2],
  [86.45,-13.1],[86.55,-13.25],[86.65,-13.0],[86.75,-13.2],[86.85,-13.05],[87.0,-13.2]];
const avgAHigh = [[77.0,-13.25],[77.2,-13.1],[77.35,-13.25],[77.45,-13.0],[77.52,-12.78],[77.6,-12.6],[77.7,-12.35],[77.8,-12.05],[77.9,-11.85],[78.0,-11.77],[78.08,-11.78],[78.15,-11.9],[78.22,-12.1],[78.26,-12.5],[78.3,-13.2],
  [78.4,-13.3],[78.6,-13.1],[78.8,-13.0],[79.0,-12.95],[79.1,-12.85],[79.2,-12.9],[79.3,-12.75],[79.4,-12.7],[79.48,-12.55],[79.55,-12.15],[79.6,-11.8],[79.7,-11.45],[79.8,-11.2],[79.9,-11.08],[79.97,-11.06],[80.05,-11.1],[80.12,-11.2],[80.18,-11.4],[80.23,-11.8],[80.27,-13.2],
  [80.45,-13.25],[80.55,-12.9],[80.65,-12.7],[80.75,-12.5],[80.85,-12.4],[81.0,-12.3],[81.1,-12.2],[81.2,-12.1],[81.3,-12.05],[81.42,-12.0],[81.52,-11.9],[81.6,-11.78],[81.66,-11.55],[81.72,-11.2],[81.8,-10.85],[81.88,-10.55],[81.97,-10.36],[82.06,-10.38],[82.14,-10.5],[82.2,-10.7],[82.26,-11.1],[82.32,-11.45],[82.4,-11.65],[82.47,-11.72],[82.54,-11.5],[82.6,-11.15],[82.68,-10.8],[82.78,-10.5],[82.9,-10.37],[83.0,-10.34],[83.1,-10.4],[83.18,-10.55],[83.24,-10.85],[83.3,-11.25],[83.36,-11.47],[83.42,-11.42],[83.5,-11.2],[83.58,-10.95],[83.66,-10.65],[83.74,-10.3],[83.82,-10.0],[83.92,-9.8],[84.0,-9.72],[84.06,-9.69],[84.13,-9.75],[84.19,-9.92],[84.23,-10.2],[84.26,-10.7],[84.28,-11.3],[84.3,-12.2],[84.32,-13.2],
  [84.42,-13.3],[84.52,-13.05],[84.6,-12.95],[84.68,-13.2],[84.76,-12.9],[84.84,-12.68],[84.94,-12.42],[85.04,-12.25],[85.14,-12.15],[85.24,-12.1],[85.34,-12.06],[85.44,-12.03],[85.54,-11.98],[85.62,-11.92],[85.7,-11.8],[85.76,-11.45],[85.81,-11.0],[85.87,-10.7],[85.93,-10.5],[85.99,-10.42],[86.06,-10.45],[86.12,-10.6],[86.18,-11.28],[86.21,-11.8],[86.24,-13.2],
  [86.4,-13.3],[86.6,-13.1],[86.8,-13.25],[87.0,-13.1]];
const avgBLow = [[77.0,-13.2],[77.15,-12.98],[77.3,-13.25],[77.5,-13.05],[77.7,-13.3],
  [77.84,-13.2],[77.87,-12.6],[77.9,-12.25],[77.96,-12.1],[78.06,-12.03],[78.14,-12.1],[78.2,-12.21],[78.28,-12.42],[78.36,-12.68],[78.4,-12.95],[78.44,-13.2],
  [78.6,-13.05],[78.8,-13.3],[79.0,-13.03],[79.2,-13.25],[79.4,-13.0],[79.6,-13.2],
  [79.68,-13.2],[79.72,-12.6],[79.76,-11.85],[79.8,-11.5],[79.86,-11.34],[79.96,-11.3],[80.06,-11.38],[80.16,-11.55],[80.24,-11.8],[80.3,-12.08],[80.36,-12.45],[80.4,-12.8],[80.43,-13.2],
  [80.6,-13.1],[80.8,-13.02],[81.0,-13.25],[81.2,-13.0],[81.32,-12.9],
  [81.43,-12.68],[81.55,-12.35],[81.64,-12.0],[81.68,-11.8],[81.72,-11.4],[81.77,-11.0],[81.84,-10.7],[81.9,-10.58],[81.97,-10.54],[82.05,-10.57],[82.15,-10.7],[82.24,-10.88],[82.29,-11.1],[82.33,-11.5],[82.38,-12.2],[82.43,-12.8],[82.48,-13.2],
  [82.56,-13.3],[82.64,-13.2],[82.7,-12.7],[82.73,-12.15],[82.76,-11.3],[82.79,-10.9],[82.86,-10.64],[82.96,-10.54],[83.05,-10.58],[83.13,-10.7],[83.22,-11.05],[83.3,-11.55],[83.4,-12.0],[83.45,-12.18],[83.5,-12.12],[83.54,-11.95],[83.6,-11.55],[83.64,-11.2],[83.67,-10.8],[83.72,-10.4],[83.78,-10.14],[83.86,-9.93],[83.97,-9.83],[84.08,-9.9],[84.2,-10.1],[84.27,-10.4],[84.31,-10.8],[84.35,-11.4],[84.39,-12.1],[84.42,-12.7],[84.45,-13.2],
  [84.6,-13.1],[84.8,-13.02],[85.0,-13.25],[85.2,-13.05],[85.4,-13.2],
  [85.53,-13.2],[85.57,-12.6],[85.61,-12.15],[85.66,-11.5],[85.71,-10.97],[85.77,-10.6],[85.85,-10.4],[85.94,-10.34],[86.04,-10.4],[86.14,-10.54],[86.22,-10.72],[86.28,-10.9],[86.33,-11.48],[86.37,-12.1],[86.41,-12.6],[86.44,-13.2],
  [86.6,-13.1],[86.8,-13.25],[87.0,-13.05]];
const avgBHigh = [[77.0,-13.25],[77.1,-13.02],[77.2,-13.3],[77.5,-13.2],[77.8,-13.3],
  [77.98,-13.2],[78.02,-12.85],[78.06,-12.7],[78.1,-12.85],[78.14,-13.2],
  [78.5,-13.3],[78.9,-13.03],[79.2,-13.3],[79.5,-13.05],
  [79.82,-13.2],[79.86,-12.75],[79.92,-12.38],[79.97,-12.15],[80.03,-12.08],[80.09,-12.15],[80.16,-12.4],[80.22,-12.75],[80.27,-13.2],
  [80.6,-13.3],[80.9,-13.04],[81.2,-13.3],[81.5,-13.2],
  [81.72,-13.2],[81.76,-12.4],[81.8,-11.81],[81.85,-11.55],[81.92,-11.43],[82.01,-11.4],[82.08,-11.45],[82.13,-11.55],[82.18,-11.75],[82.23,-12.0],[82.29,-12.4],[82.33,-12.8],[82.37,-13.2],
  [82.55,-13.3],
  [82.76,-13.2],[82.8,-12.3],[82.84,-11.65],[82.9,-11.48],[82.96,-11.4],[83.02,-11.38],[83.08,-11.44],[83.13,-11.55],[83.2,-11.8],[83.27,-12.15],[83.32,-12.6],[83.37,-13.2],
  [83.52,-13.3],
  [83.69,-13.2],[83.74,-12.5],[83.8,-11.81],[83.84,-11.3],[83.87,-10.97],[83.93,-10.78],[84.02,-10.7],[84.08,-10.76],[84.14,-10.9],[84.2,-11.15],[84.24,-11.48],[84.29,-12.1],[84.34,-13.2],
  [84.6,-13.3],[84.9,-13.03],[85.2,-13.3],[85.45,-13.2],
  [85.63,-13.2],[85.67,-12.3],[85.71,-11.65],[85.76,-11.4],[85.81,-11.28],[85.9,-11.2],[86.01,-11.16],[86.1,-11.25],[86.17,-11.41],[86.23,-11.7],[86.28,-12.15],[86.31,-12.6],[86.34,-13.2],
  [86.6,-13.3],[86.9,-13.04],[87.0,-13.25]];

const blue = "#0000ff", magenta = "#ff00ff";
const highDash = "10,9", lowDash = "11,6,1.5,6";

const svg = d3.select("#chart");
const y = d3.scaleLog().domain([1e-13, 1e-9]).range([412, 13]);

const panels = [
  {left: 88, right: 602, name: panelNames[0], nameX: 562, titleX: 317,
   low: [scanAL1, scanAL2, scanAL3, scanAL4, scanAL5, scanAL6, scanAL7, scanAL8],
   high: [scanAH1, scanAH2, scanAH3, scanAH4, scanAH5, scanAH6, scanAH7, scanAH8],
   lowAvg: avgALow, highAvg: avgAHigh},
  {left: 610, right: 1122, name: panelNames[1], nameX: 1086, titleX: 840,
   low: [scanBL1, scanBL2, scanBL3, scanBL4, scanBL5, scanBL6, scanBL7, scanBL8],
   high: [scanBH1, scanBH2, scanBH3, scanBH4, scanBH5, scanBH6, scanBH7, scanBH8],
   lowAvg: avgBLow, highAvg: avgBHigh}
];

// minor + major ticks of the log axis
const logTicks = [];
d3.range(-13, -9).forEach(e => d3.range(1, 10).forEach(k => logTicks.push(+(k + "e" + e))));
logTicks.push(1e-9);
const isMajor = v => Math.abs(Math.log10(v) - Math.round(Math.log10(v))) < 1e-6;

panels.forEach((p, pi) => {
  const x = d3.scaleLinear().domain([77, 87]).range([p.left, p.right]);

  svg.append("clipPath").attr("id", "clip" + pi)
    .append("rect")
      .attr("x", p.left).attr("y", y(1e-9))
      .attr("width", p.right - p.left).attr("height", y(1e-13) - y(1e-9));

  const plot = svg.append("g").attr("clip-path", `url(#clip${pi})`);

  const scanLine = d3.line().x(d => x(d[0])).y(d => y(d[1]));
  const toPoints = (vals, start) => vals.map((v, i) => [start + i * scanStep, Math.pow(10, v)]);

  // individual scans, low and high res interleaved
  p.high.forEach((vals, i) => {
    plot.append("path")
      .datum(toPoints(p.low[i], scanStarts[(i + 4) % 8]))
      .attr("d", scanLine)
      .attr("fill", "none").attr("stroke", magenta).attr("stroke-width", 1.3)
      .attr("stroke-dasharray", lowDash);
    plot.append("path")
      .datum(toPoints(vals, scanStarts[i]))
      .attr("d", scanLine)
      .attr("fill", "none").attr("stroke", blue).attr("stroke-width", 1.3)
      .attr("stroke-dasharray", highDash);
  });

  // averages
  const avgLine = d3.line().curve(d3.curveMonotoneX)
    .x(d => x(d[0])).y(d => y(Math.pow(10, d[1])));
  [p.lowAvg, p.highAvg].forEach(avg => {
    plot.append("path").datum(avg).attr("d", avgLine)
      .attr("fill", "none").attr("stroke", "#000").attr("stroke-width", 3.8)
      .attr("stroke-linejoin", "round");
  });

  // axes with inward ticks
  const tickStyle = g => { g.select(".domain").remove(); g.selectAll("line").attr("stroke", "#000"); };
  svg.append("g").attr("transform", `translate(0,${y(1e-13)})`)
    .call(d3.axisBottom(x).tickValues(isotopeMasses).tickSizeInner(-6).tickSizeOuter(0).tickFormat(""))
    .call(tickStyle);
  svg.append("g").attr("transform", `translate(0,${y(1e-9)})`)
    .call(d3.axisTop(x).tickValues(isotopeMasses).tickSizeInner(-6).tickSizeOuter(0).tickFormat(""))
    .call(tickStyle);
  svg.append("g").attr("transform", `translate(${p.left},0)`)
    .call(d3.axisLeft(y).tickValues(logTicks).tickSizeInner(-4).tickSizeOuter(0).tickFormat(""))
    .call(tickStyle)
    .selectAll(".tick line").filter(d => isMajor(d)).attr("x2", 8);
  svg.append("g").attr("transform", `translate(${p.right},0)`)
    .call(d3.axisRight(y).tickValues(logTicks).tickSizeInner(-4).tickSizeOuter(0).tickFormat(""))
    .call(tickStyle)
    .selectAll(".tick line").filter(d => isMajor(d)).attr("x2", -8);

  svg.append("rect")
    .attr("x", p.left).attr("y", y(1e-9))
    .attr("width", p.right - p.left).attr("height", y(1e-13) - y(1e-9))
    .attr("fill", "none").attr("stroke", "#000").attr("stroke-width", 1.2);

  // isotope labels
  isotopeMasses.forEach((m, i) => {
    const t = svg.append("text").attr("x", x(m)).attr("y", 442).attr("text-anchor", "middle");
    t.append("tspan").attr("font-size", 13).attr("dy", -7).text(isotopeLabels[i]);
    t.append("tspan").attr("font-size", 20).attr("dy", 7).text("Kr");
    t.append("tspan").attr("font-size", 17).attr("dy", -7).text("+");
  });

  svg.append("text").attr("x", p.titleX).attr("y", 465)
    .attr("text-anchor", "middle").attr("font-size", 17).text("Tuned Mass");

  svg.append("text").attr("x", p.nameX).attr("y", 77)
    .attr("text-anchor", "middle").attr("font-size", 35).text(p.name);
});

// y tick labels on the left panel
decadeExponents.forEach(e => {
  const t = svg.append("text").attr("x", 85).attr("y", y(Math.pow(10, e)) + 7)
    .attr("text-anchor", "end");
  t.append("tspan").attr("font-size", 17).text("10");
  t.append("tspan").attr("font-size", 12).attr("dy", -8).text("\u2212" + Math.abs(e));
});

svg.append("text")
  .attr("transform", "translate(23,202) rotate(-90)")
  .attr("text-anchor", "middle").attr("font-size", 18)
  .text("Detector Current (arb)");

// legend
const legend = svg.append("g");
legend.append("rect").attr("x", 631).attr("y", 36).attr("width", 298).attr("height", 96)
  .attr("fill", "#fff").attr("stroke", "#000").attr("stroke-width", 1.2);
const legendRows = [
  {y: 55, stroke: blue, dash: highDash},
  {y: 85, stroke: magenta, dash: lowDash},
  {y: 113, stroke: "#000", dash: null}
];
legendRows.forEach((r, i) => {
  legend.append("line").attr("x1", 642).attr("x2", 700).attr("y1", r.y).attr("y2", r.y)
    .attr("stroke", r.stroke).attr("stroke-width", 1.3)
    .attr("stroke-dasharray", r.dash);
  legend.append("text").attr("x", 707).attr("y", r.y + 6)
    .attr("font-size", 17).text(legendLabels[i]);
});
</script>
</body>
</html>
